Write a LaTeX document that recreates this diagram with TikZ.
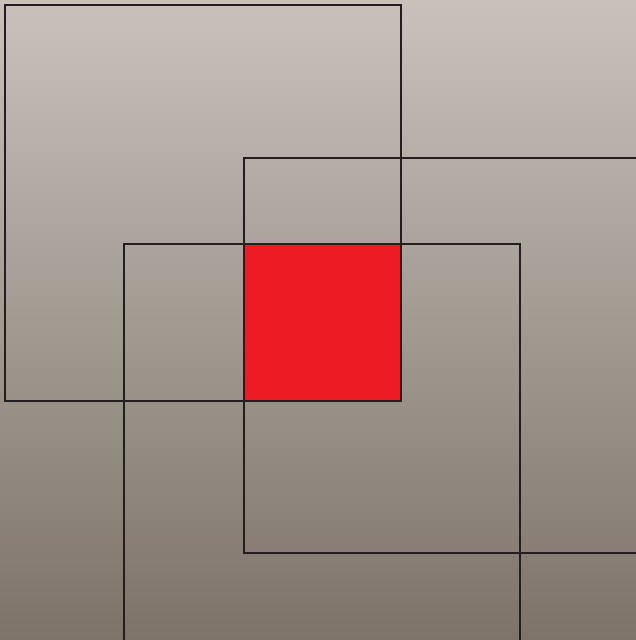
\documentclass[tikz,border=0pt]{standalone}
\usepackage{xcolor}
\usepackage{tikz}
\definecolor{bgtop}{HTML}{C9C2BB}
\definecolor{bgbottom}{HTML}{7D7369}
\definecolor{sqred}{HTML}{ED1C24}
\definecolor{sqline}{HTML}{231F20}

\begin{document}
\begin{tikzpicture}[
  x=1pt, y=1pt,
  frame/.style={draw=sqline, line width=1.1pt},
]
% background and bounds
\useasboundingbox (0,0) rectangle (636,640);
\clip (0,0) rectangle (636,640);
\shade[top color=bgtop, bottom color=bgbottom] (0,0) rectangle (636,640);
% shared region of the three squares
\fill[sqred] (244,239) rectangle (401,396);
% the three overlapping squares
\draw[frame] (5,239) rectangle (401,635);
\draw[frame] (244,87) rectangle (640,482);
\draw[frame] (124,-2) rectangle (520,396);
\end{tikzpicture}
\end{document}
